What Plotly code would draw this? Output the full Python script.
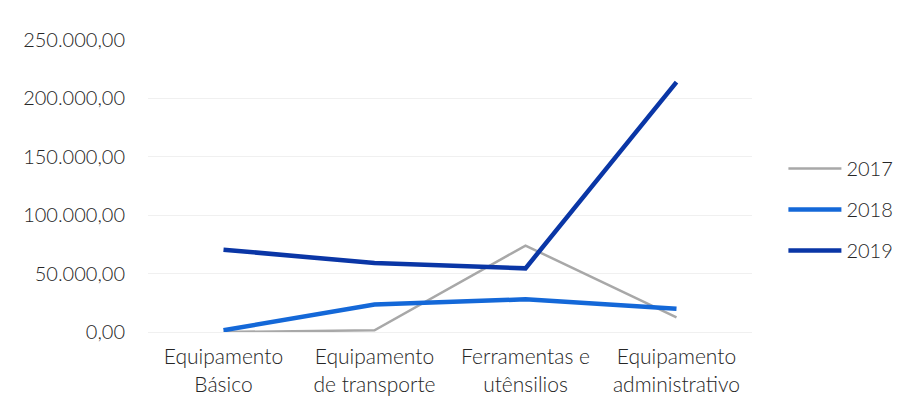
import plotly.graph_objects as go

categories = ["Equipamento<br>Básico", "Equipamento<br>de transporte", "Ferramentas e<br>utênsilios", "Equipamento<br>administrativo"]
series_names = ["2017", "2018", "2019"]
values_2017 = [0, 1500, 74000, 12500]
values_2018 = [1500, 23500, 28000, 20000]
values_2019 = [70500, 59000, 54500, 214000]
tick_vals = [0, 50000, 100000, 150000, 200000, 250000]
tick_text = ["0,00", "50.000,00", "100.000,00", "150.000,00", "200.000,00", "250.000,00"]

colors = ["#a8a8a8", "#1468d8", "#0a36a6"]
widths = [2.5, 4.5, 4.5]
all_values = [values_2017, values_2018, values_2019]

fig = go.Figure()
for i, (name, vals) in enumerate(zip(series_names, all_values)):
    fig.add_trace(go.Scatter(
        x=list(range(len(categories))), y=vals, mode="lines", name=name,
        line=dict(color=colors[i], width=widths[i]),
        legendgroup=name,
    ))

font_family = "Lato, Open Sans, sans-serif"
fig.update_layout(
    width=897, height=394,
    margin=dict(l=140, r=153, t=32, b=70, autoexpand=False),
    paper_bgcolor="white", plot_bgcolor="white",
    font=dict(family=font_family, size=19, color="#262626", weight=300),
    xaxis=dict(
        range=[-0.5, 3.5], tickmode="array", tickvals=list(range(len(categories))),
        ticktext=categories, showgrid=False, zeroline=False, automargin=False,
        showline=True, linecolor="#f0f0f0", ticks="", tickfont=dict(size=21, weight=300),
        ticklabelstandoff=6,
    ),
    yaxis=dict(
        range=[0, 250000], tickmode="array", tickvals=tick_vals, ticktext=tick_text,
        showgrid=True, gridcolor="#f0f0f0", gridwidth=1, zeroline=False, automargin=False,
        showline=False, ticks="", tickfont=dict(size=20, weight=300), ticklabelstandoff=22,
    ),
    legend=dict(
        x=1.052, y=0.627, xanchor="left", yanchor="top",
        font=dict(size=20, weight=300), tracegroupgap=12, traceorder="grouped",
        itemwidth=53, bgcolor="rgba(0,0,0,0)",
    ),
    showlegend=True,
)

fig.write_html("out.html")
